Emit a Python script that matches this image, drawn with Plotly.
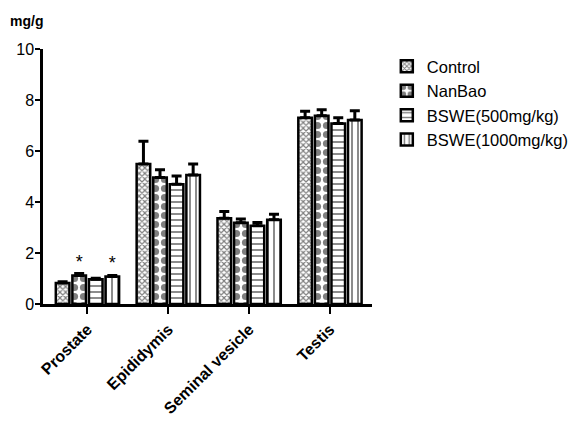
import plotly.graph_objects as go

categories = ["Prostate", "Epididymis", "Seminal vesicle", "Testis"]
series_names = ["Control", "NanBao", "BSWE(500mg/kg)", "BSWE(1000mg/kg)"]
control = [0.82, 5.49, 3.36, 7.30]
nanbao = [1.12, 4.96, 3.19, 7.38]
bswe500 = [0.97, 4.70, 3.07, 7.08]
bswe1000 = [1.08, 5.06, 3.30, 7.22]
control_err = [0.05, 0.89, 0.27, 0.26]
nanbao_err = [0.08, 0.30, 0.14, 0.24]
bswe500_err = [0.04, 0.32, 0.13, 0.22]
bswe1000_err = [0.04, 0.43, 0.22, 0.36]
stars_nanbao = ["*", "", "", ""]
stars_1000 = ["*", "", "", ""]
y_ticks = [0, 2, 4, 6, 8, 10]

values = [control, nanbao, bswe500, bswe1000]
errors = [control_err, nanbao_err, bswe500_err, bswe1000_err]
texts = [["", "", "", ""], stars_nanbao, ["", "", "", ""], stars_1000]
patterns = [
    dict(shape="x", size=4, solidity=0.5, fgcolor="black", bgcolor="white"),
    dict(shape=".", size=9, solidity=0.5, fgcolor="black", bgcolor="white"),
    dict(shape="-", size=6, solidity=0.3, fgcolor="black", bgcolor="white"),
    dict(shape="|", size=6, solidity=0.3, fgcolor="black", bgcolor="white"),
]

fig = go.Figure()
for i, name in enumerate(series_names):
    fig.add_trace(go.Bar(
        x=categories, y=values[i], name=name,
        legendgroup=name,
        marker=dict(color="white", line=dict(color="black", width=2.5), pattern=patterns[i]),
        error_y=dict(type="data", array=errors[i], arrayminus=[0] * 4, symmetric=False,
                     color="black", thickness=3, width=5),
        text=texts[i], textposition="outside", cliponaxis=False,
        textfont=dict(family="Arial", size=18, color="black"),
    ))

fig.update_layout(
    width=578, height=431,
    margin=dict(l=35, r=210, t=41, b=135),
    paper_bgcolor="white", plot_bgcolor="white",
    barmode="group", bargap=0.18, bargroupgap=0.18,
    font=dict(family="Arial", color="black"),
    legend=dict(x=1.045, y=1.0, xanchor="left", yanchor="top",
                font=dict(family="Arial", size=16.5, color="black"),
                tracegroupgap=0, bgcolor="rgba(0,0,0,0)"),
    showlegend=True,
    annotations=[dict(text="<b>mg/g</b>", xref="paper", yref="paper",
                      x=-0.105, y=1.07, xanchor="left", yanchor="bottom",
                      showarrow=False, font=dict(family="Arial", size=14, color="black"))],
)
fig.update_xaxes(
    range=[-0.55, 3.52], showline=True, linecolor="black", linewidth=2.5,
    ticks="outside", ticklen=7, tickwidth=2, tickcolor="black",
    tickangle=-45, tickfont=dict(family="Arial", size=16, color="black"),
    showgrid=False, zeroline=False, automargin=False,
    tickprefix="<b>", ticksuffix="</b>",
)
fig.update_yaxes(
    range=[0, 10], tickvals=y_ticks, showline=True, linecolor="black", linewidth=2.5,
    ticks="outside", ticklen=5, tickwidth=2, tickcolor="black",
    tickfont=dict(family="Arial", size=16, color="black"),
    showgrid=False, zeroline=False, automargin=False,
    ticklabelstandoff=-2,
    tickprefix="<b>", ticksuffix="</b>",
)

fig.write_html("out.html")
